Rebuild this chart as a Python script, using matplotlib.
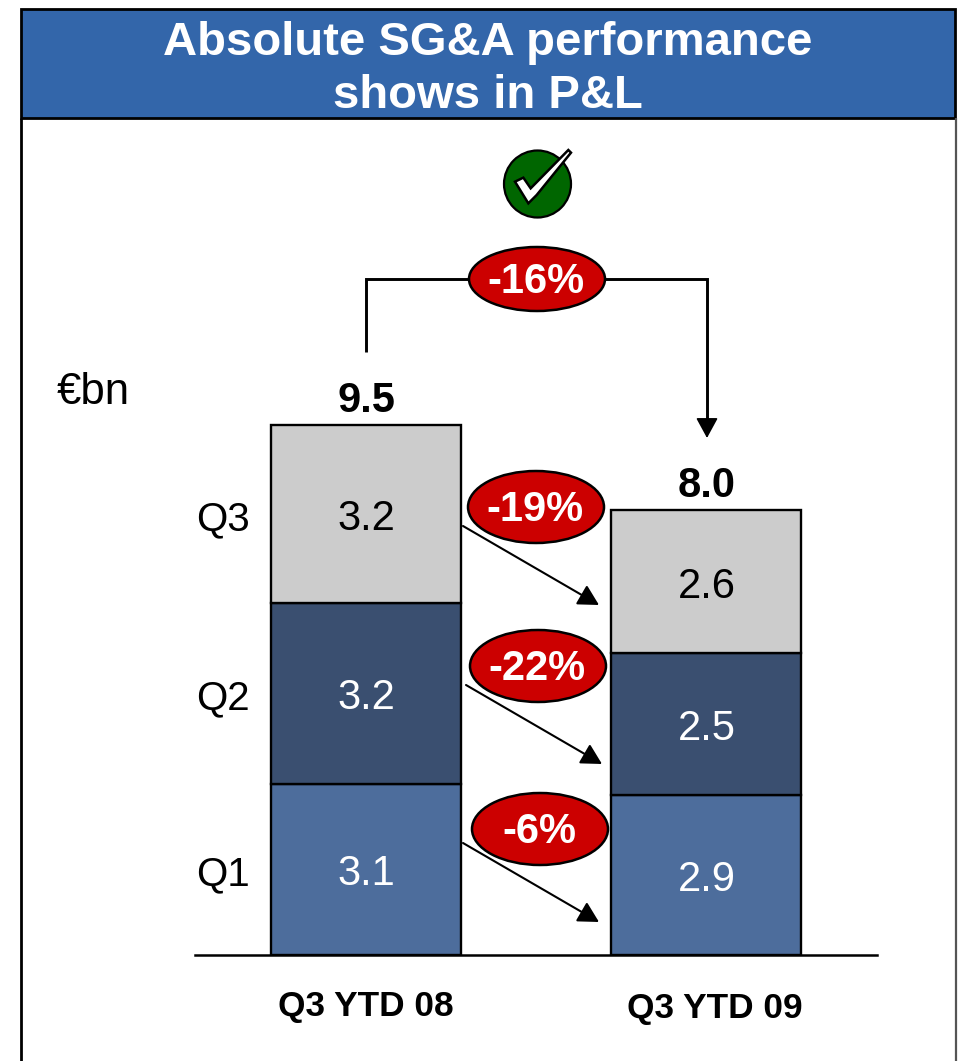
import numpy as np
import matplotlib
matplotlib.use("Agg")
import matplotlib.pyplot as plt
from matplotlib.patches import Ellipse, Rectangle, Circle, Polygon
from matplotlib.transforms import ScaledTranslation

periods = ["Q3 YTD 08", "Q3 YTD 09"]
quarters = ["Q1", "Q2", "Q3"]
q1_values = [3.08, 2.88]
q2_values = [3.24, 2.54]
q3_values = [3.20, 2.57]
title_lines = "Absolute SG&A performance\nshows in P&L"
unit_label = "€bn"
total_change = "-16%"
quarter_changes = ["-6%", "-22%", "-19%"]

plt.rcParams["font.family"] = ["Liberation Sans", "DejaVu Sans"]
W, H = 959, 1061
fig = plt.figure(figsize=(W / 100, H / 100), dpi=100, facecolor="white")

BLUE = "#3366AA"
RED = "#CC0000"
GREEN = "#006600"
colors = ["#4D6D9C", "#3A4F70", "#CCCCCC"]
text_colors = ["white", "white", "black"]
BIG = 30

# chart axes: baseline at y=955, spanning x=195..877
axb = 955
ax = fig.add_axes([195 / W, 1 - axb / H, (877 - 195) / W, (axb - 375) / H])
ax.set_facecolor("none")
ax.set_xlim(-0.503, 1.503)
ax.set_ylim(0, (axb - 375) / 55.67)
for s in ["top", "left", "right"]:
    ax.spines[s].set_visible(False)
ax.spines["bottom"].set_linewidth(1.8)
ax.set_yticks([])
ax.set_xticks([0, 1])
ax.set_xticklabels(periods, fontsize=25.4, fontweight="bold")
ax.tick_params(axis="x", length=0, pad=25)
lab = ax.get_xticklabels()[1]
lab.set_transform(lab.get_transform() + ScaledTranslation(9 / 100, -2 / 100, fig.dpi_scale_trans))

series = [q1_values, q2_values, q3_values]
x = np.arange(len(periods))
bottom = np.zeros(len(periods))
for vals, col, tc, qname in zip(series, colors, text_colors, quarters):
    vals = np.array(vals)
    ax.bar(x, vals, width=0.56, bottom=bottom, color=col, edgecolor="black", linewidth=1.7, zorder=3)
    for xi, v, b in zip(x, vals, bottom):
        ax.annotate(f"{v:.1f}", (xi, b + v / 2), xytext=(0.5, -3.7), textcoords="offset points",
                    ha="center", va="center", fontsize=BIG, color=tc, zorder=5)
    ax.annotate(qname, (0, bottom[0] + vals[0] / 2), xytext=(-116.5 * 0.72, -3.5), textcoords="offset points",
                ha="right", va="center", fontsize=29, color="black")
    bottom = bottom + vals
for xi, t in zip(x, bottom):
    ax.annotate(f"{t:.1f}", (xi, t), xytext=(0.5, 17.2), textcoords="offset points",
                ha="center", va="center", fontsize=BIG, fontweight="bold")

# overlay in pixel coordinates for the slide furniture
ov = fig.add_axes([0, 0, 1, 1], zorder=5)
ov.set_xlim(0, W)
ov.set_ylim(H, 0)
ov.axis("off")

ov.add_patch(Rectangle((21, 9), 934, 109, facecolor=BLUE, edgecolor="black", linewidth=2))
ov.plot([21, 21], [118, H], color="black", lw=2, solid_capstyle="butt")
ov.plot([956, 956], [118, H], color="#555555", lw=1.6, solid_capstyle="butt")
ov.text(488, 69.5, title_lines, ha="center", va="center", color="white",
        fontsize=34, fontweight="bold", linespacing=1.26)

ov.text(57, 393, unit_label, ha="left", va="center", fontsize=31.5)

# check icon
ov.add_patch(Circle((537.5, 184), 33.5, facecolor=GREEN, edgecolor="black", linewidth=1.6))
check = np.array([[225, 155], [250, 143], [272, 175], [385, 60], [393, 68], [290, 195],
                  [265, 220]]) / 3 + [440, 130]
ov.add_patch(Polygon(check, closed=True, facecolor="white", edgecolor="black", linewidth=1.8, zorder=4))

# total-change connector
ov.plot([366, 366, 707, 707], [352, 279, 279, 425], color="black", lw=2.1,
        solid_joinstyle="miter", solid_capstyle="butt")
style = "-|>,head_length=12.5,head_width=6.8"
ov.annotate("", xy=(707, 438), xytext=(707, 420),
            arrowprops=dict(arrowstyle=style, mutation_scale=1, color="black", lw=1.2, shrinkA=0, shrinkB=0))

# quarter arrows
for p0, p1 in [((463, 526), (599, 605)), ((466, 685), (602, 764)), ((463, 843), (599, 922))]:
    ov.annotate("", xy=p1, xytext=p0,
                arrowprops=dict(arrowstyle=style, mutation_scale=1, color="black", lw=1.5, shrinkA=0, shrinkB=0))

# change bubbles
bubbles = [(537, 279, 68, 32, total_change),
           (536, 507, 68, 36, quarter_changes[2]),
           (538, 666, 68, 36, quarter_changes[1]),
           (540, 829, 68, 36, quarter_changes[0])]
for cx, cy, rx, ry, txt in bubbles:
    ov.add_patch(Ellipse((cx, cy), 2 * rx, 2 * ry, facecolor=RED, edgecolor="black", linewidth=1.8, zorder=6))
    ov.text(cx - 1, cy + 3, txt, ha="center", va="center", color="white", fontsize=BIG,
            fontweight="bold", zorder=7)

fig.savefig("out.png", dpi=100)
